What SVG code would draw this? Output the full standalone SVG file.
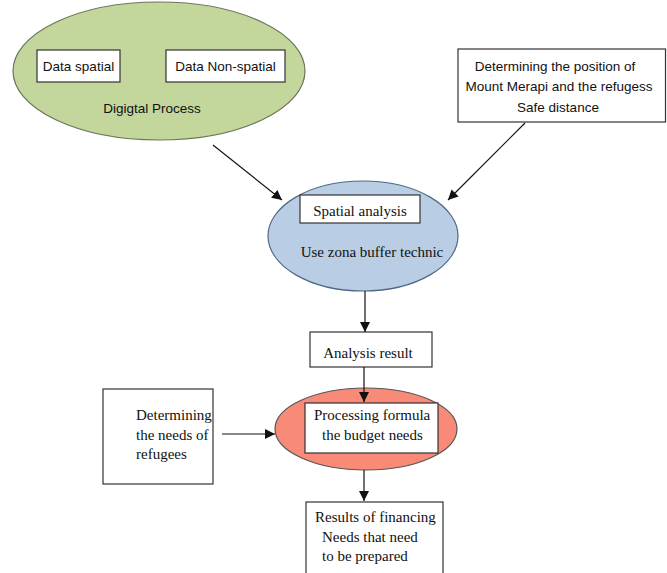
<svg xmlns="http://www.w3.org/2000/svg" width="667" height="573" viewBox="0 0 667 573">
<style>
.box{fill:#fff;stroke:#333;stroke-width:1.2}
.sans{font-family:"Liberation Sans",Arial,sans-serif;font-size:13.5px;fill:#111}
.serif{font-family:"Liberation Serif","Times New Roman",serif;font-size:15px;fill:#111}
.ln{stroke:#111;stroke-width:1.2;fill:none}
</style>
<defs>
<marker id="ah" viewBox="0 0 10 10" refX="10" refY="5" markerWidth="10" markerHeight="10" markerUnits="userSpaceOnUse" orient="auto">
<path d="M0,0 L10,5 L0,10 z" fill="#111"/>
</marker>
</defs>
<rect width="667" height="573" fill="#fff"/>
<g id="digital">
<ellipse cx="159" cy="71" rx="146" ry="69" fill="#c3d69b" stroke="#6b7558" stroke-width="1.2"/>
<rect class="box" x="37" y="50" width="83" height="32"/>
<text class="sans" x="78.5" y="71" text-anchor="middle">Data spatial</text>
<rect class="box" x="166" y="50" width="119" height="32"/>
<text class="sans" x="225.5" y="71" text-anchor="middle">Data Non-spatial</text>
<text class="sans" x="152" y="113" text-anchor="middle">Digigtal Process</text>
</g>
<g id="position">
<rect class="box" x="458" y="49" width="207.5" height="73"/>
<text class="sans" x="555" y="71" text-anchor="middle">Determining the position of</text>
<text class="sans" x="559" y="91" text-anchor="middle">Mount Merapi and the refugess</text>
<text class="sans" x="558" y="112" text-anchor="middle">Safe distance</text>
</g>
<g id="spatial">
<ellipse cx="363" cy="236" rx="95" ry="55" fill="#b9cde5" stroke="#4f6a86" stroke-width="1.2"/>
<rect class="box" x="300" y="195" width="120" height="28"/>
<text class="serif" x="360" y="216" text-anchor="middle">Spatial analysis</text>
<text class="serif" x="372" y="257" text-anchor="middle">Use zona buffer technic</text>
</g>
<g id="result">
<rect class="box" x="310" y="332" width="122" height="35"/>
<text class="serif" x="368" y="358" text-anchor="middle">Analysis result</text>
</g>
<g id="needs">
<rect class="box" x="103" y="389" width="110" height="95"/>
<text class="serif" x="136" y="420">Determining</text>
<text class="serif" x="136" y="440">the needs of</text>
<text class="serif" x="136" y="459">refugees</text>
</g>
<g id="processing">
<ellipse cx="366" cy="429" rx="91" ry="41" fill="#f88a77" stroke="#555" stroke-width="1.2"/>
<rect class="box" x="305" y="403" width="133" height="50"/>
<text class="serif" x="314" y="420">Processing formula</text>
<text class="serif" x="322" y="440">the budget needs</text>
</g>
<g id="financing">
<rect class="box" x="306" y="502" width="137" height="80"/>
<text class="serif" x="315" y="522">Results of financing</text>
<text class="serif" x="322" y="542">Needs that need</text>
<text class="serif" x="322" y="561">to be prepared</text>
</g>
<g id="connectors">
<line class="ln" x1="213" y1="145" x2="282" y2="200" marker-end="url(#ah)"/>
<line class="ln" x1="525" y1="123" x2="448" y2="200" marker-end="url(#ah)"/>
<line class="ln" x1="365" y1="291" x2="365" y2="332" marker-end="url(#ah)"/>
<line class="ln" x1="364" y1="367" x2="364" y2="402" marker-end="url(#ah)"/>
<line class="ln" x1="222" y1="434" x2="275" y2="434" marker-end="url(#ah)"/>
<line class="ln" x1="364" y1="470" x2="364" y2="501" marker-end="url(#ah)"/>
</g>
</svg>
